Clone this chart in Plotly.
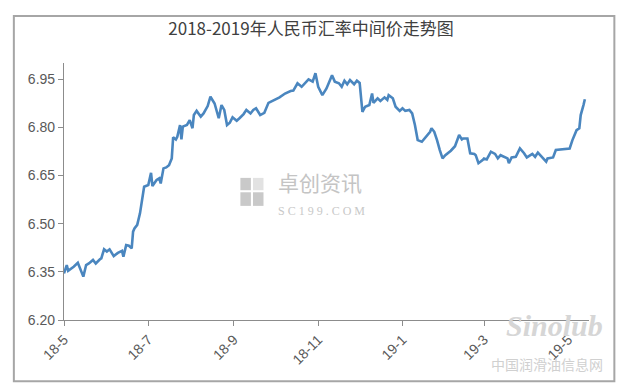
import plotly.graph_objects as go

title_text = "2018-2019年人民币汇率中间价走势图"

dates = [
    "2018-05-01", "2018-05-03", "2018-05-04", "2018-05-07", "2018-05-08", "2018-05-11", "2018-05-14", "2018-05-15",
    "2018-05-17", "2018-05-19", "2018-05-22", "2018-05-24", "2018-05-27", "2018-05-28", "2018-05-30", "2018-06-01",
    "2018-06-03", "2018-06-06", "2018-06-09", "2018-06-12", "2018-06-13", "2018-06-15", "2018-06-17", "2018-06-19",
    "2018-06-20", "2018-06-21", "2018-06-23", "2018-06-25", "2018-06-28", "2018-06-30", "2018-07-01", "2018-07-03",
    "2018-07-04", "2018-07-07", "2018-07-09", "2018-07-10", "2018-07-12", "2018-07-14", "2018-07-16", "2018-07-18",
    "2018-07-19", "2018-07-21", "2018-07-22", "2018-07-24", "2018-07-25", "2018-07-26", "2018-07-29", "2018-07-31",
    "2018-08-02", "2018-08-03", "2018-08-05", "2018-08-08", "2018-08-10", "2018-08-13", "2018-08-15", "2018-08-18",
    "2018-08-21", "2018-08-23", "2018-08-25", "2018-08-27", "2018-08-29", "2018-08-31", "2018-09-03", "2018-09-05",
    "2018-09-08", "2018-09-10", "2018-09-13", "2018-09-15", "2018-09-17", "2018-09-20", "2018-09-23", "2018-09-26",
    "2018-09-29", "2018-10-04", "2018-10-08", "2018-10-12", "2018-10-14", "2018-10-15", "2018-10-17", "2018-10-20",
    "2018-10-23", "2018-10-25", "2018-10-28", "2018-10-30", "2018-11-01", "2018-11-04", "2018-11-07", "2018-11-11",
    "2018-11-13", "2018-11-16", "2018-11-18", "2018-11-20", "2018-11-22", "2018-11-24", "2018-11-27", "2018-11-29",
    "2018-12-01", "2018-12-03", "2018-12-05", "2018-12-08", "2018-12-10", "2018-12-11", "2018-12-14", "2018-12-16",
    "2018-12-19", "2018-12-21", "2018-12-22", "2018-12-25", "2018-12-27", "2018-12-30", "2019-01-01", "2019-01-03",
    "2019-01-06", "2019-01-08", "2019-01-10", "2019-01-12", "2019-01-15", "2019-01-18", "2019-01-21", "2019-01-22",
    "2019-01-24", "2019-01-26", "2019-01-27", "2019-01-28", "2019-01-30", "2019-02-01", "2019-02-05", "2019-02-08",
    "2019-02-11", "2019-02-13", "2019-02-14", "2019-02-17", "2019-02-19", "2019-02-22", "2019-02-23", "2019-02-25",
    "2019-02-28", "2019-03-01", "2019-03-03", "2019-03-06", "2019-03-09", "2019-03-11", "2019-03-13", "2019-03-15",
    "2019-03-18", "2019-03-19", "2019-03-21", "2019-03-24", "2019-03-27", "2019-03-30", "2019-04-01", "2019-04-05",
    "2019-04-07", "2019-04-09", "2019-04-12", "2019-04-15", "2019-04-16", "2019-04-20", "2019-04-22", "2019-04-26",
    "2019-04-29", "2019-05-02", "2019-05-04", "2019-05-05", "2019-05-07", "2019-05-09", "2019-05-10", "2019-05-12",
    "2019-05-13",
]

rates = [
    6.345, 6.371, 6.353, 6.361, 6.366, 6.378, 6.345, 6.335,
    6.371, 6.376, 6.387, 6.376, 6.389, 6.392, 6.420, 6.413,
    6.420, 6.399, 6.409, 6.415, 6.397, 6.433, 6.431, 6.423,
    6.475, 6.485, 6.496, 6.532, 6.615, 6.617, 6.620, 6.658,
    6.617, 6.636, 6.641, 6.625, 6.672, 6.675, 6.682, 6.703,
    6.769, 6.762, 6.770, 6.807, 6.762, 6.802, 6.807, 6.822,
    6.797, 6.838, 6.851, 6.833, 6.843, 6.866, 6.895, 6.874,
    6.828, 6.869, 6.854, 6.807, 6.814, 6.831, 6.820, 6.828,
    6.841, 6.854, 6.843, 6.854, 6.859, 6.838, 6.845, 6.876,
    6.882, 6.893, 6.905, 6.913, 6.914, 6.921, 6.937, 6.926,
    6.942, 6.949, 6.942, 6.968, 6.926, 6.900, 6.921, 6.962,
    6.942, 6.937, 6.926, 6.945, 6.934, 6.947, 6.934, 6.945,
    6.938, 6.848, 6.864, 6.869, 6.905, 6.876, 6.890, 6.882,
    6.893, 6.885, 6.900, 6.890, 6.864, 6.851, 6.859, 6.851,
    6.854, 6.843, 6.807, 6.760, 6.755, 6.770, 6.786, 6.797,
    6.786, 6.760, 6.739, 6.729, 6.703, 6.713, 6.727, 6.741,
    6.776, 6.762, 6.765, 6.765, 6.719, 6.717, 6.713, 6.688,
    6.698, 6.703, 6.700, 6.724, 6.717, 6.703, 6.713, 6.708,
    6.703, 6.688, 6.706, 6.708, 6.734, 6.719, 6.706, 6.717,
    6.708, 6.721, 6.708, 6.693, 6.703, 6.706, 6.729, 6.731,
    6.731, 6.734, 6.760, 6.769, 6.791, 6.797, 6.838, 6.869,
    6.887,
]

x_tick_vals = ["2018-05-01", "2018-07-01", "2018-09-01", "2018-11-01", "2019-01-01", "2019-03-01", "2019-05-01"]
x_tick_text = ["18-5", "18-7", "18-9", "18-11", "19-1", "19-3", "19-5"]
y_tick_vals = [6.20, 6.35, 6.50, 6.65, 6.80, 6.95]
y_tick_text = ["6.20", "6.35", "6.50", "6.65", "6.80", "6.95"]

fig = go.Figure()
fig.add_trace(go.Scatter(
    x=dates, y=rates, mode="lines",
    line=dict(color="#4a86bf", width=2.6),
    hoverinfo="x+y",
))

axis_color = "#8c8c8c"
tick_font = dict(family="Liberation Sans, Arial, sans-serif", size=14, color="#595959")

fig.update_layout(
    width=622, height=389,
    margin=dict(l=64, r=33, t=63, b=69),
    paper_bgcolor="white", plot_bgcolor="white",
    showlegend=False,
    title=dict(
        text=title_text, x=0.5, xanchor="center", y=0.925, yanchor="middle",
        font=dict(family="Noto Sans CJK SC, sans-serif", size=17, color="#404040"),
    ),
    xaxis=dict(
        type="date", range=["2018-05-01", "2019-05-16"],
        tickmode="array", tickvals=x_tick_vals, ticktext=x_tick_text,
        tickangle=-45, ticks="outside", ticklen=5, tickcolor=axis_color,
        showline=True, linecolor=axis_color, linewidth=1.2,
        showgrid=False, zeroline=False, tickfont=tick_font,
    ),
    yaxis=dict(
        range=[6.20, 7.00],
        tickmode="array", tickvals=y_tick_vals, ticktext=y_tick_text,
        ticks="outside", ticklen=5, tickcolor=axis_color,
        showline=True, linecolor=axis_color, linewidth=1.2,
        showgrid=False, zeroline=False, tickfont=tick_font,
    ),
)

# outer frame of the chart
fig.add_shape(type="rect", xref="paper", yref="paper",
              x0=-0.0955, x1=1.0483, y0=-0.238, y1=1.1828,
              line=dict(color="#a6a6a6", width=2), layer="below")

# watermark logo (four grey squares)
wm = "#c9c9c9"
for (a0, a1, b0, b1, col) in [
    (0.336, 0.356, 0.505, 0.553, wm),
    (0.336, 0.356, 0.444, 0.497, wm),
    (0.360, 0.380, 0.444, 0.497, wm),
    (0.360, 0.380, 0.505, 0.553, "#e2e2e2"),
]:
    fig.add_shape(type="rect", xref="paper", yref="paper", x0=a0, x1=a1, y0=b0, y1=b1,
                  line=dict(width=0), fillcolor=col, layer="below")

fig.add_annotation(xref="paper", yref="paper", x=0.404, y=0.537, xanchor="left", yanchor="middle",
                   text="卓创资讯", showarrow=False,
                   font=dict(family="Noto Sans CJK SC", size=21, color="#c4c4c4"))
fig.add_annotation(xref="paper", yref="paper", x=0.404, y=0.425, xanchor="left", yanchor="middle",
                   text="S C 1 9 9 . C O M", showarrow=False,
                   font=dict(family="Liberation Serif", size=12, color="#c8c8c8"))
fig.add_annotation(xref="paper", yref="paper", x=1.03, y=-0.02, xanchor="right", yanchor="middle",
                   text="<i><b>Sinolub</b></i>", showarrow=False,
                   font=dict(family="Liberation Serif", size=30, color="#d6d6d6"))
fig.add_annotation(xref="paper", yref="paper", x=1.03, y=-0.17, xanchor="right", yanchor="middle",
                   text="中国润滑油信息网", showarrow=False,
                   font=dict(family="Noto Sans CJK SC", size=14, color="#d0d0d0"))

fig.write_html("out.html")
